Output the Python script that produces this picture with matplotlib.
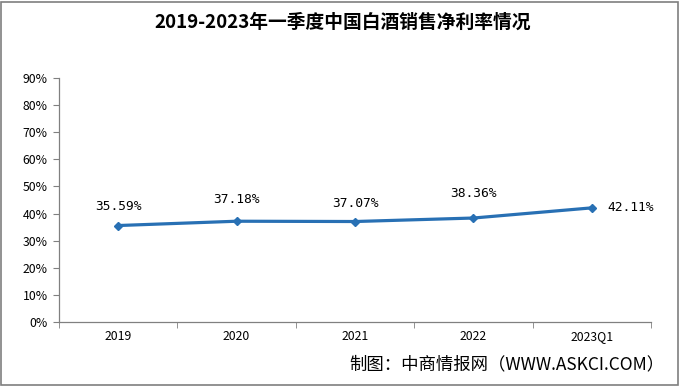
import matplotlib.pyplot as plt
from matplotlib.patches import Rectangle

plt.rcParams['font.family'] = ['Noto Sans CJK SC', 'DejaVu Sans']

categories = ['2019', '2020', '2021', '2022', '2023Q1']
net_margin = [35.59, 37.18, 37.07, 38.36, 42.11]
y_ticks = [0, 10, 20, 30, 40, 50, 60, 70, 80, 90]

blue = '#2870B4'

fig = plt.figure(figsize=(6.81, 3.86), dpi=100)
ax = fig.add_axes([0.0866, 0.1658, 0.8694, 0.632])

x = list(range(len(categories)))
ax.plot(x, net_margin, color=blue, lw=2.3, marker='D', ms=4.5,
        markerfacecolor=blue, markeredgecolor=blue, solid_capstyle='round')

# data labels
offsets = [(0, 19), (0, 22), (0, 18), (0, 25)]
for i, v in enumerate(net_margin[:-1]):
    ax.annotate(f'{v:.2f}%', (i, v), xytext=offsets[i], textcoords='offset pixels',
                ha='center', va='center', fontsize=9.3, family='DejaVu Sans Mono')
ax.annotate(f'{net_margin[-1]:.2f}%', (x[-1], net_margin[-1]), xytext=(16, 0),
            textcoords='offset pixels', ha='left', va='center', fontsize=9.3,
            family='DejaVu Sans Mono')

ax.set_xlim(-0.5, len(categories) - 0.5)
ax.set_ylim(0, 90)
ax.set_yticks(y_ticks)
ax.set_yticklabels([f'{t}%' for t in y_ticks], fontsize=8.8)
ax.set_xticks(x)
ax.set_xticklabels(categories, fontsize=8.8)
ax.set_xticks([i + 0.5 for i in range(-1, len(categories))], minor=True)
ax.tick_params(axis='x', which='major', length=0, pad=6)
ax.tick_params(axis='x', which='minor', length=4, color='#808080')
ax.tick_params(axis='y', length=4, color='#808080', pad=4)

for s in ['top', 'right']:
    ax.spines[s].set_visible(False)
for s in ['left', 'bottom']:
    ax.spines[s].set_color('#808080')
    ax.spines[s].set_linewidth(0.9)

fig.text(0.503, 0.943, '2019-2023年一季度中国白酒销售净利率情况', ha='center', va='center',
         fontsize=13.5, fontweight='bold')
fig.text(0.975, 0.055, '制图：中商情报网（WWW.ASKCI.COM）', ha='right', va='center',
         fontsize=12.5)

fig.patches.append(Rectangle((0.002, 0.003), 0.993, 0.992, transform=fig.transFigure,
                             fill=False, edgecolor='#7F7F7F', lw=1.2))

fig.savefig('out.png', dpi=100)
